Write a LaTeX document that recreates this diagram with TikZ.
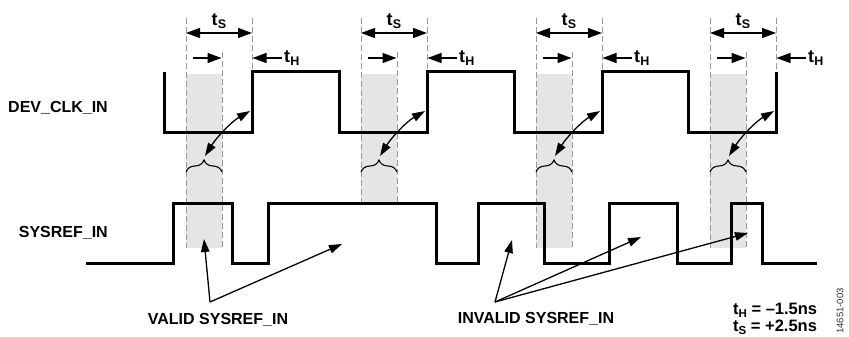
\documentclass[tikz,border=0pt]{standalone}
\usepackage{fontspec}
\setmainfont{Liberation Sans}
\usetikzlibrary{arrows.meta,decorations.pathreplacing,calc}
\newcommand\tsub[1]{\kern0.2pt\raisebox{-2.5pt}{\fontsize{12.5}{12.5}\selectfont #1}}
\newcommand\lsub[1]{\raisebox{-3.5pt}{\fontsize{11.5}{11.5}\selectfont #1}}
\begin{document}
\begin{tikzpicture}[x=1pt,y=-1pt,
  wave/.style={line width=3pt, line join=miter},
  guide/.style={draw=black!40, line width=0.9pt, dash pattern=on 6pt off 3pt},
  win/.style={fill=black!10, draw=none},
  dim/.style={line width=1.3pt, -{Triangle[length=14pt,width=10pt]}},
  ddim/.style={line width=1.3pt, {Triangle[length=14pt,width=10pt]}-{Triangle[length=14pt,width=10pt]}},
  link/.style={line width=1.3pt, {Triangle[length=13pt,width=8.5pt]}-{Triangle[length=13pt,width=8.5pt]}},
  ptr/.style={line width=1.3pt, -{Triangle[length=13pt,width=8.5pt]}},
  lbl/.style={font=\fontsize{16}{16}\selectfont\bfseries, inner sep=0pt},
  leg/.style={font=\fontsize{16.5}{16.5}\selectfont\bfseries, inner sep=0pt},
  tlbl/.style={font=\fontsize{18}{18}\selectfont\bfseries, inner sep=0pt},
  brc/.style={line width=1.1pt, decorate, decoration={brace, amplitude=12pt}},
]
\useasboundingbox (0,0) rectangle (849,337);

\foreach \E/\B [count=\i] in {252/248, 427/203, 602/248, 776/248}{
  \fill[win] ({\E-66},74) rectangle ({\E-30},\B);
  \draw[guide] ({\E-66},18) -- ({\E-66},\B);
  \draw[guide] ({\E-30},52) -- ({\E-30},\B);
  \draw[guide] (\E,18) -- (\E,72);
  \coordinate (sL\i) at ({\E-66},33);
  \coordinate (sR\i) at (\E,33);
  \draw[ddim] (sL\i) -- (sR\i);
  \coordinate (a\i) at ({\E-59},58);
  \coordinate (b\i) at ({\E-30.5},58);
  \draw[dim] (a\i) -- (b\i);
  \coordinate (c\i) at ({\E+30},58);
  \coordinate (d\i) at ({\E+0.5},58);
  \draw[dim] (c\i) -- (d\i);
  \node[tlbl, anchor=base] (ts\i) at ({\E-33},26) {t\tsub{S}};
  \node[tlbl, anchor=base west] (th\i) at ({\E+32},63) {t\tsub{H}};
  \draw[brc] ({\E-66},172) -- ({\E-30},172);
  \coordinate (p\i) at ({\E-47},156);
  \coordinate (q\i) at ({\E-2},111);
  \draw[link] (p\i) .. controls +(11.5,-18.5) and +(-18.9,10.9) .. (q\i);
}

\draw[wave] (164,72) -- (164,132) -- (252,132) -- (252,72) -- (339,72) -- (339,132)
  -- (427,132) -- (427,72) -- (514,72) -- (514,132) -- (602,132) -- (602,72)
  -- (688,72) -- (688,132) -- (776,132) -- (776,72);

\draw[wave] (86,263) -- (173,263) -- (173,203) -- (232,203) -- (232,263) -- (268,263)
  -- (268,203) -- (436,203) -- (436,263) -- (478,263) -- (478,203) -- (544,203)
  -- (544,263) -- (609,263) -- (609,203) -- (677,203) -- (677,263) -- (731,263)
  -- (731,203) -- (762,203) -- (762,263) -- (817,263);

\node[lbl, anchor=base east] (dev) at (108,113) {DEV\_CLK\_IN};
\node[lbl, anchor=base east] (sys) at (108,237) {SYSREF\_IN};

\node[lbl, anchor=base] (valid) at (218,324) {VALID SYSREF\_IN};
\coordinate (v1) at (210,302);
\coordinate (vt1) at (204,239);
\coordinate (vt2) at (342,244);
\draw[ptr] (v1) -- (vt1);
\draw[ptr] (v1) -- (vt2);

\node[lbl, anchor=base] (invalid) at (536,323) {INVALID SYSREF\_IN};
\coordinate (v2) at (495,302);
\coordinate (it1) at (512,240);
\coordinate (it2) at (641,237);
\coordinate (it3) at (748,233);
\draw[ptr] (v2) -- (it1);
\draw[ptr] (v2) -- (it2);
\draw[ptr] (v2) -- (it3);

\node[leg, anchor=base west] (lh) at (733,314) {t\lsub{H} = \textendash1.5ns};
\node[leg, anchor=base west] (ls) at (733,331) {t\lsub{S} = +2.5ns};

\node[rotate=90, font=\fontsize{9.5}{9.5}\selectfont, text=black!80, inner sep=0pt] (fig) at (840,311) {14651-003};
\end{tikzpicture}
\end{document}
